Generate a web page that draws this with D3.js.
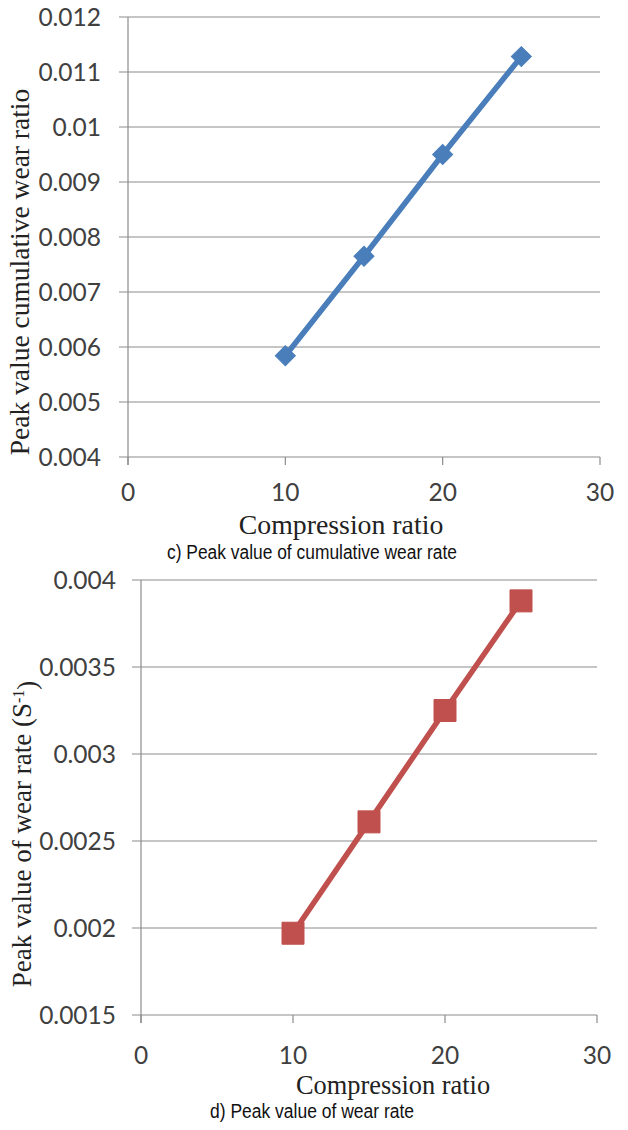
<!DOCTYPE html>
<html>
<head>
<meta charset="utf-8">
<script src="https://cdn.jsdelivr.net/npm/d3@7"></script>
<style>
  html, body { margin: 0; padding: 0; background: #fff; }
  svg { display: block; }
  .tick-label { font-family: Lato, "Open Sans", sans-serif; font-size: 24.5px; fill: #404040; }
  .axis-title { font-family: "Liberation Serif", "Times New Roman", serif; fill: #222; }
  .caption { font-family: "Liberation Sans Narrow", "Liberation Sans", Arial, sans-serif; font-size: 20px; fill: #111; }
</style>
</head>
<body>
<svg id="chart" width="628" height="1130"></svg>
<script>
// Compression ratios shared by both panels
const compressionRatios = [10, 15, 20, 25];

// Panel c: peak cumulative wear ratio
const cumulativeWearPeak = [0.00584, 0.00765, 0.00950, 0.01128];
const cXTicks = [0, 10, 20, 30];
const cYTicks = [0.004, 0.005, 0.006, 0.007, 0.008, 0.009, 0.010, 0.011, 0.012];
const cYTickLabels = ["0.004", "0.005", "0.006", "0.007", "0.008", "0.009", "0.01", "0.011", "0.012"];

// Panel d: peak wear rate (1/s)
const wearRatePeak = [0.00197, 0.00261, 0.00325, 0.00388];
const dXTicks = [0, 10, 20, 30];
const dYTicks = [0.0015, 0.002, 0.0025, 0.003, 0.0035, 0.004];
const dYTickLabels = ["0.0015", "0.002", "0.0025", "0.003", "0.0035", "0.004"];

const svg = d3.select("#chart");
const gridColor = "#8c8c8c";

function drawPanel(opts) {
  const x = d3.scaleLinear().domain([0, 30]).range([opts.left, opts.right]);
  const y = d3.scaleLinear().domain(opts.yDomain).range([opts.bottom, opts.top]);
  const g = svg.append("g");

  // horizontal gridlines with short tick stubs on the left
  g.selectAll("line.grid").data(opts.yTicks).join("line")
    .attr("x1", opts.left - 9).attr("x2", opts.right)
    .attr("y1", d => y(d)).attr("y2", d => y(d))
    .attr("stroke", gridColor).attr("stroke-width", 1.2);

  // vertical axis line
  g.append("line")
    .attr("x1", opts.left).attr("x2", opts.left)
    .attr("y1", opts.top).attr("y2", opts.bottom + 8)
    .attr("stroke", gridColor).attr("stroke-width", 1.2);

  // x tick marks below the axis
  g.selectAll("line.xt").data(opts.xTicks).join("line")
    .attr("x1", d => x(d)).attr("x2", d => x(d))
    .attr("y1", opts.bottom).attr("y2", opts.bottom + 8)
    .attr("stroke", gridColor).attr("stroke-width", 1.2);

  // y tick labels
  g.selectAll("text.yl").data(opts.yTicks).join("text")
    .attr("class", "tick-label")
    .attr("x", opts.yLabelX)
    .attr("y", d => y(d))
    .attr("dy", "0.36em")
    .attr("text-anchor", "end")
    .text((d, i) => opts.yTickLabels[i]);

  // x tick labels
  g.selectAll("text.xl").data(opts.xTicks).join("text")
    .attr("class", "tick-label")
    .attr("x", d => x(d))
    .attr("y", opts.xLabelY)
    .attr("text-anchor", "middle")
    .text(d => d);

  // series line
  const line = d3.line().x((d, i) => x(compressionRatios[i])).y(d => y(d));
  g.append("path")
    .datum(opts.values)
    .attr("d", line)
    .attr("fill", "none")
    .attr("stroke", opts.color)
    .attr("stroke-width", 5.5)
    .attr("stroke-linejoin", "round");

  // markers
  const sym = d3.symbol().type(opts.symbol).size(opts.symbolSize);
  g.selectAll("path.mk").data(opts.values).join("path")
    .attr("d", sym)
    .attr("transform", (d, i) => `translate(${x(compressionRatios[i])},${y(d)})${opts.symbolRotate ? " rotate(45)" : ""}`)
    .attr("fill", opts.color)
    .attr("stroke", opts.color)
    .attr("stroke-width", 1);

  // axis titles
  g.append("text")
    .attr("class", "axis-title")
    .attr("font-size", opts.xTitleSize + "px")
    .attr("x", opts.xTitleX).attr("y", opts.xTitleY)
    .attr("text-anchor", "middle")
    .text("Compression ratio");

  const yt = g.append("text")
    .attr("class", "axis-title")
    .attr("font-size", opts.yTitleSize + "px")
    .attr("transform", `translate(${opts.yTitleX},${opts.yTitleY}) rotate(-90)`)
    .attr("text-anchor", "middle");
  yt.append("tspan").text(opts.yTitle);
  if (opts.yTitleSup) {
    yt.append("tspan").text(" (S");
    yt.append("tspan").attr("dy", "-0.45em").attr("font-size", "16px").text(opts.yTitleSup);
    yt.append("tspan").attr("dy", "0.45em").text(")");
  }

  // caption (narrow sans, compressed to its set width)
  g.append("text")
    .attr("class", "caption")
    .attr("x", opts.captionX - opts.captionWidth / 2).attr("y", opts.captionY)
    .attr("textLength", opts.captionWidth)
    .attr("lengthAdjust", "spacingAndGlyphs")
    .text(opts.caption);
}

drawPanel({
  left: 128, right: 600, top: 17, bottom: 457,
  yDomain: [0.004, 0.012], yTicks: cYTicks, yTickLabels: cYTickLabels, xTicks: cXTicks,
  yLabelX: 101, xLabelY: 501,
  values: cumulativeWearPeak, color: "#4a7ebb",
  symbol: d3.symbolSquare, symbolSize: 200, symbolRotate: true,
  xTitleX: 341, xTitleY: 534, xTitleSize: 27.8,
  yTitleX: 29, yTitleY: 272, yTitleSize: 27.5, yTitle: "Peak value cumulative wear ratio",
  captionX: 312, captionY: 559, captionWidth: 290, caption: "c) Peak value of cumulative wear rate"
});

drawPanel({
  left: 141, right: 597, top: 580, bottom: 1015,
  yDomain: [0.0015, 0.004], yTicks: dYTicks, yTickLabels: dYTickLabels, xTicks: dXTicks,
  yLabelX: 116, xLabelY: 1064,
  values: wearRatePeak, color: "#c0504d",
  symbol: d3.symbolSquare, symbolSize: 484, symbolRotate: false,
  xTitleX: 393, xTitleY: 1094, xTitleSize: 26.4,
  yTitleX: 31, yTitleY: 834, yTitleSize: 27, yTitle: "Peak value of wear rate", yTitleSup: "-1",
  captionX: 312, captionY: 1118, captionWidth: 204, caption: "d) Peak value of wear rate"
});
</script>
</body>
</html>
